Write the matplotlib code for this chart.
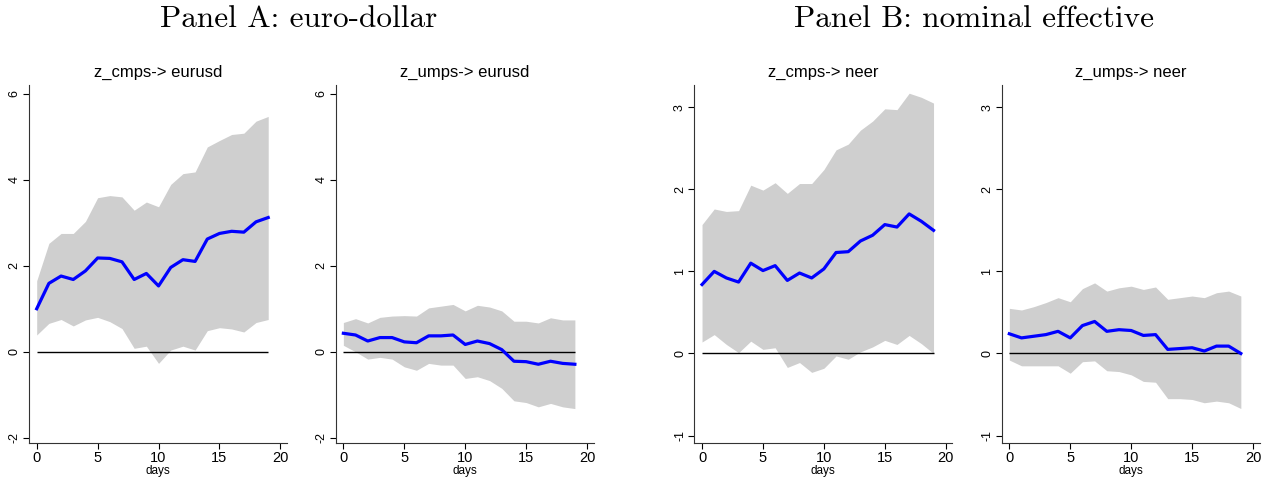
import numpy as np
import matplotlib
matplotlib.use('Agg')
import matplotlib.pyplot as plt

plt.rcParams['font.family'] = ['Liberation Sans', 'DejaVu Sans']

days = list(range(20))

# z_cmps -> eurusd
cmps_eur = [1.00, 1.59, 1.76, 1.68, 1.88, 2.18, 2.17, 2.09, 1.68, 1.82,
            1.53, 1.96, 2.14, 2.10, 2.62, 2.75, 2.80, 2.78, 3.02, 3.12]
cmps_eur_hi = [1.65, 2.52, 2.75, 2.75, 3.03, 3.58, 3.63, 3.60, 3.29, 3.48,
               3.37, 3.89, 4.14, 4.18, 4.76, 4.91, 5.05, 5.08, 5.36, 5.47]
cmps_eur_lo = [0.39, 0.66, 0.75, 0.60, 0.74, 0.80, 0.70, 0.54, 0.08, 0.13,
               -0.27, 0.04, 0.13, 0.04, 0.49, 0.56, 0.53, 0.46, 0.68, 0.75]

# z_umps -> eurusd
umps_eur = [0.43, 0.39, 0.25, 0.33, 0.33, 0.23, 0.21, 0.37, 0.37, 0.39,
            0.17, 0.25, 0.19, 0.05, -0.22, -0.23, -0.29, -0.22, -0.27, -0.29]
umps_eur_hi = [0.68, 0.77, 0.67, 0.80, 0.83, 0.84, 0.83, 1.02, 1.06, 1.10,
               0.95, 1.08, 1.04, 0.95, 0.71, 0.71, 0.67, 0.79, 0.74, 0.74]
umps_eur_lo = [0.15, 0.00, -0.17, -0.13, -0.17, -0.35, -0.43, -0.27, -0.31, -0.31,
               -0.62, -0.58, -0.67, -0.85, -1.14, -1.18, -1.28, -1.20, -1.28, -1.32]

# z_cmps -> neer
cmps_neer = [0.84, 1.00, 0.92, 0.87, 1.10, 1.01, 1.07, 0.89, 0.98, 0.92,
             1.03, 1.23, 1.24, 1.37, 1.44, 1.57, 1.54, 1.70, 1.61, 1.50]
cmps_neer_hi = [1.57, 1.76, 1.73, 1.74, 2.05, 1.99, 2.08, 1.95, 2.07, 2.07,
                2.24, 2.48, 2.55, 2.72, 2.83, 2.98, 2.97, 3.17, 3.12, 3.05]
cmps_neer_lo = [0.14, 0.23, 0.11, 0.01, 0.15, 0.05, 0.07, -0.17, -0.11, -0.23,
                -0.18, -0.03, -0.07, 0.02, 0.08, 0.16, 0.11, 0.22, 0.12, 0.00]

# z_umps -> neer
umps_neer = [0.24, 0.19, 0.21, 0.23, 0.27, 0.19, 0.34, 0.39, 0.27, 0.29,
             0.28, 0.22, 0.23, 0.05, 0.06, 0.07, 0.03, 0.09, 0.09, 0.00]
umps_neer_hi = [0.55, 0.53, 0.57, 0.62, 0.68, 0.63, 0.79, 0.86, 0.76, 0.80,
                0.82, 0.78, 0.81, 0.66, 0.68, 0.70, 0.68, 0.74, 0.76, 0.70]
umps_neer_lo = [-0.08, -0.15, -0.15, -0.15, -0.15, -0.24, -0.10, -0.09, -0.21, -0.22,
                -0.26, -0.34, -0.35, -0.55, -0.55, -0.56, -0.60, -0.58, -0.60, -0.67]

panels = [
    ('z_cmps-> eurusd', cmps_eur, cmps_eur_lo, cmps_eur_hi, [-2, 0, 2, 4, 6], (-2.12, 6.2)),
    ('z_umps-> eurusd', umps_eur, umps_eur_lo, umps_eur_hi, [-2, 0, 2, 4, 6], (-2.12, 6.2)),
    ('z_cmps-> neer', cmps_neer, cmps_neer_lo, cmps_neer_hi, [-1, 0, 1, 2, 3], (-1.09, 3.27)),
    ('z_umps-> neer', umps_neer, umps_neer_lo, umps_neer_hi, [-1, 0, 1, 2, 3], (-1.09, 3.27)),
]
lefts = [0.0230, 0.2660, 0.5502, 0.7937]

fig = plt.figure(figsize=(12.62, 4.8), dpi=100)

for (title, irf, lo, hi, yt, ylim), left in zip(panels, lefts):
    ax = fig.add_axes([left, 0.0771, 0.2044, 0.7458])
    ax.fill_between(days, lo, hi, color='#cfcfcf', linewidth=0)
    ax.hlines(0, days[0], days[-1], color='black', linewidth=1.0)
    ax.plot(days, irf, color='#0000ff', linewidth=2.3)
    ax.set_xlim(-0.63, 20.54)
    ax.set_ylim(*ylim)
    ax.set_xticks([0, 5, 10, 15, 20])
    ax.set_yticks(yt)
    ax.set_yticklabels([str(v) for v in yt], rotation=90, va='center')
    ax.tick_params(axis='x', labelsize=10.5, length=4, width=0.8, pad=2)
    ax.tick_params(axis='y', labelsize=9, length=4, width=0.8, pad=2)
    for s in ['top', 'right']:
        ax.spines[s].set_visible(False)
    for s in ['left', 'bottom']:
        ax.spines[s].set_color('#333333')
        ax.spines[s].set_linewidth(0.8)
    ax.set_title(title, fontsize=12, pad=6)
    ax.set_xlabel('days', fontsize=8.5, labelpad=0)

fig.text(0.237, 0.944, 'Panel A: euro-dollar', family='cmr10', fontsize=22.5,
         ha='center', va='baseline')
fig.text(0.772, 0.944, 'Panel B: nominal effective', family='cmr10', fontsize=22.5,
         ha='center', va='baseline')

fig.savefig('out.png', dpi=100)
